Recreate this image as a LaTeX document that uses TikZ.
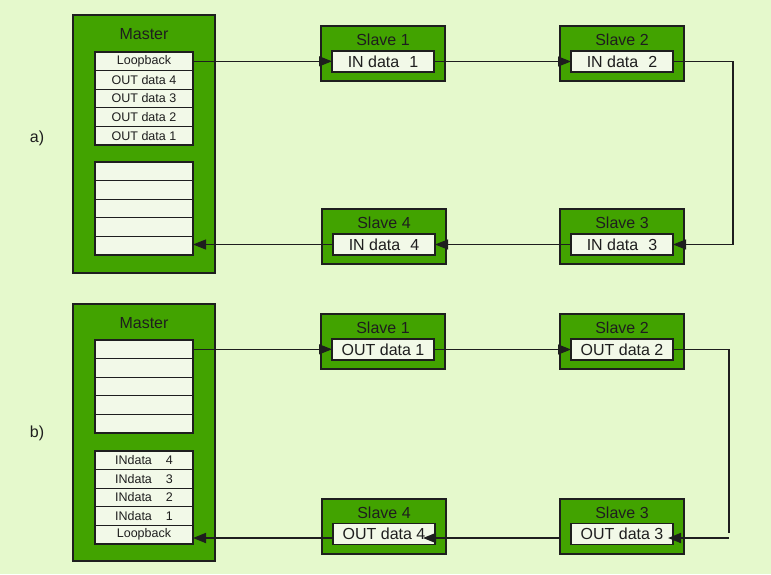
\documentclass[tikz,border=0pt]{standalone}
\usepackage{fontspec}
\setmainfont{Liberation Sans}
\usetikzlibrary{arrows.meta}
\definecolor{bgc}{RGB}{229,249,204}
\definecolor{grn}{RGB}{66,163,0}
\definecolor{cellc}{RGB}{242,249,232}
\definecolor{edge}{RGB}{30,30,30}
\begin{document}
\begin{tikzpicture}[x=1pt,y=-1pt,
  outerbox/.style={draw=edge,line width=1.3pt,fill=grn,anchor=north west,inner sep=0,outer sep=0},
  cellbox/.style={draw=edge,line width=1.3pt,fill=cellc,anchor=north west,inner sep=0,outer sep=0,minimum width=98pt,minimum height=18.6pt,font=\fontsize{12.5}{13}\selectfont,text=edge},
  inbox/.style={draw=edge,line width=1.3pt,fill=cellc,anchor=north west,inner sep=0,outer sep=0,minimum width=102pt,minimum height=21pt,font=\fontsize{16}{17}\selectfont,text=edge},
  ttl/.style={font=\fontsize{16}{17}\selectfont,inner sep=0,text=edge},
  lbl/.style={font=\fontsize{16}{17}\selectfont,inner sep=0,text=edge},
  conn/.style={draw=edge,line width=1.1pt},
  thick conn/.style={draw=edge,line width=1.8pt},
  tip/.style={-{Triangle[length=13pt,width=10pt]}}
]
\fill[bgc] (0,0) rectangle (771,574);
\useasboundingbox (0,0) rectangle (771,574);

% ---------- a) ----------
\node[lbl] (la) at (37,138) {a)};
\node[outerbox,minimum width=142pt,minimum height=258pt] (mA) at (73,15) {};
\node[ttl] (mAt) at (144,34) {Master};
\node[cellbox] (upA1) at (95,52) {Loopback};
\node[cellbox] (upA2) at (95,70.6) {OUT data 4};
\node[cellbox] (upA3) at (95,89.2) {OUT data 3};
\node[cellbox] (upA4) at (95,107.8) {OUT data 2};
\node[cellbox] (upA5) at (95,126.4) {OUT data 1};
\node[cellbox] (loA1) at (95,162) {};
\node[cellbox] (loA2) at (95,180.6) {};
\node[cellbox] (loA3) at (95,199.2) {};
\node[cellbox] (loA4) at (95,217.8) {};
\node[cellbox] (loA5) at (95,236.4) {};

\node[outerbox,minimum width=124pt,minimum height=55pt] (s1a) at (321,26) {};
\node[ttl] (s1at) at (383,40) {Slave 1};
\node[inbox] (s1ai) at (332,51) {IN data\hspace{10pt}1};
\node[outerbox,minimum width=124pt,minimum height=55pt] (s2a) at (560,26) {};
\node[ttl] (s2at) at (622,40) {Slave 2};
\node[inbox] (s2ai) at (571,51) {IN data\hspace{10pt}2};
\node[outerbox,minimum width=124pt,minimum height=55pt] (s3a) at (560,209) {};
\node[ttl] (s3at) at (622,223) {Slave 3};
\node[inbox] (s3ai) at (571,234) {IN data\hspace{10pt}3};
\node[outerbox,minimum width=124pt,minimum height=55pt] (s4a) at (322,209) {};
\node[ttl] (s4at) at (384,223) {Slave 4};
\node[inbox] (s4ai) at (333,234) {IN data\hspace{10pt}4};

\coordinate (ra) at (733,0);
\draw[conn,tip] (upA1.east) -- (s1ai.west |- upA1.east);
\draw[conn,tip] (s1ai.east) -- (s2ai.west);
\draw[conn,tip] (s2ai.east) -- (s2ai.east -| ra) -- (s3ai.east -| ra) -- (s3ai.east);
\draw[conn,tip] (s3ai.west) -- (s4ai.east);
\draw[conn,tip] (s4ai.west) -- (loA5.east |- s4ai.west);

% ---------- b) ----------
\node[lbl] (lb) at (37,433) {b)};
\node[outerbox,minimum width=142pt,minimum height=257pt] (mB) at (73,304) {};
\node[ttl] (mBt) at (144,323) {Master};
\node[cellbox] (upB1) at (95,340) {};
\node[cellbox] (upB2) at (95,358.6) {};
\node[cellbox] (upB3) at (95,377.2) {};
\node[cellbox] (upB4) at (95,395.8) {};
\node[cellbox] (upB5) at (95,414.4) {};
\node[cellbox] (loB1) at (95,451) {INdata\hspace{14pt}4};
\node[cellbox] (loB2) at (95,469.6) {INdata\hspace{14pt}3};
\node[cellbox] (loB3) at (95,488.2) {INdata\hspace{14pt}2};
\node[cellbox] (loB4) at (95,506.8) {INdata\hspace{14pt}1};
\node[cellbox] (loB5) at (95,525.4) {Loopback};

\node[outerbox,minimum width=124pt,minimum height=55pt] (s1b) at (321,314) {};
\node[ttl] (s1bt) at (383,328) {Slave 1};
\node[inbox] (s1bi) at (332,339) {OUT data 1};
\node[outerbox,minimum width=124pt,minimum height=55pt] (s2b) at (560,314) {};
\node[ttl] (s2bt) at (622,328) {Slave 2};
\node[inbox] (s2bi) at (571,339) {OUT data 2};
\node[outerbox,minimum width=124pt,minimum height=55pt] (s3b) at (560,499) {};
\node[ttl] (s3bt) at (622,513) {Slave 3};
\node[inbox] (s3bi) at (571,523.5) {OUT data 3};
\node[outerbox,minimum width=124pt,minimum height=55pt] (s4b) at (322,499) {};
\node[ttl] (s4bt) at (384,513) {Slave 4};
\node[inbox] (s4bi) at (333,523.5) {OUT data 4};

\coordinate (rbTop) at (729,350);
\coordinate (rbBot) at (729,533);
\coordinate (rbIn) at (729,538);
\draw[conn,tip] (upB1.east) -- (s1bi.west |- upB1.east);
\draw[conn,tip] (s1bi.east) -- (s2bi.west);
\draw[conn] (s2bi.east) -- (s2bi.east -| rbTop) -- (rbBot);
\draw[thick conn,tip] (rbIn) -- ([xshift=-5pt]s3bi.east |- rbIn);
\draw[thick conn,tip] (s3b.west |- rbIn) -- ([xshift=-12pt]s4bi.east |- rbIn);
\draw[thick conn,tip] (s4bi.west |- rbIn) -- (loB5.east |- rbIn);
\end{tikzpicture}
\end{document}
